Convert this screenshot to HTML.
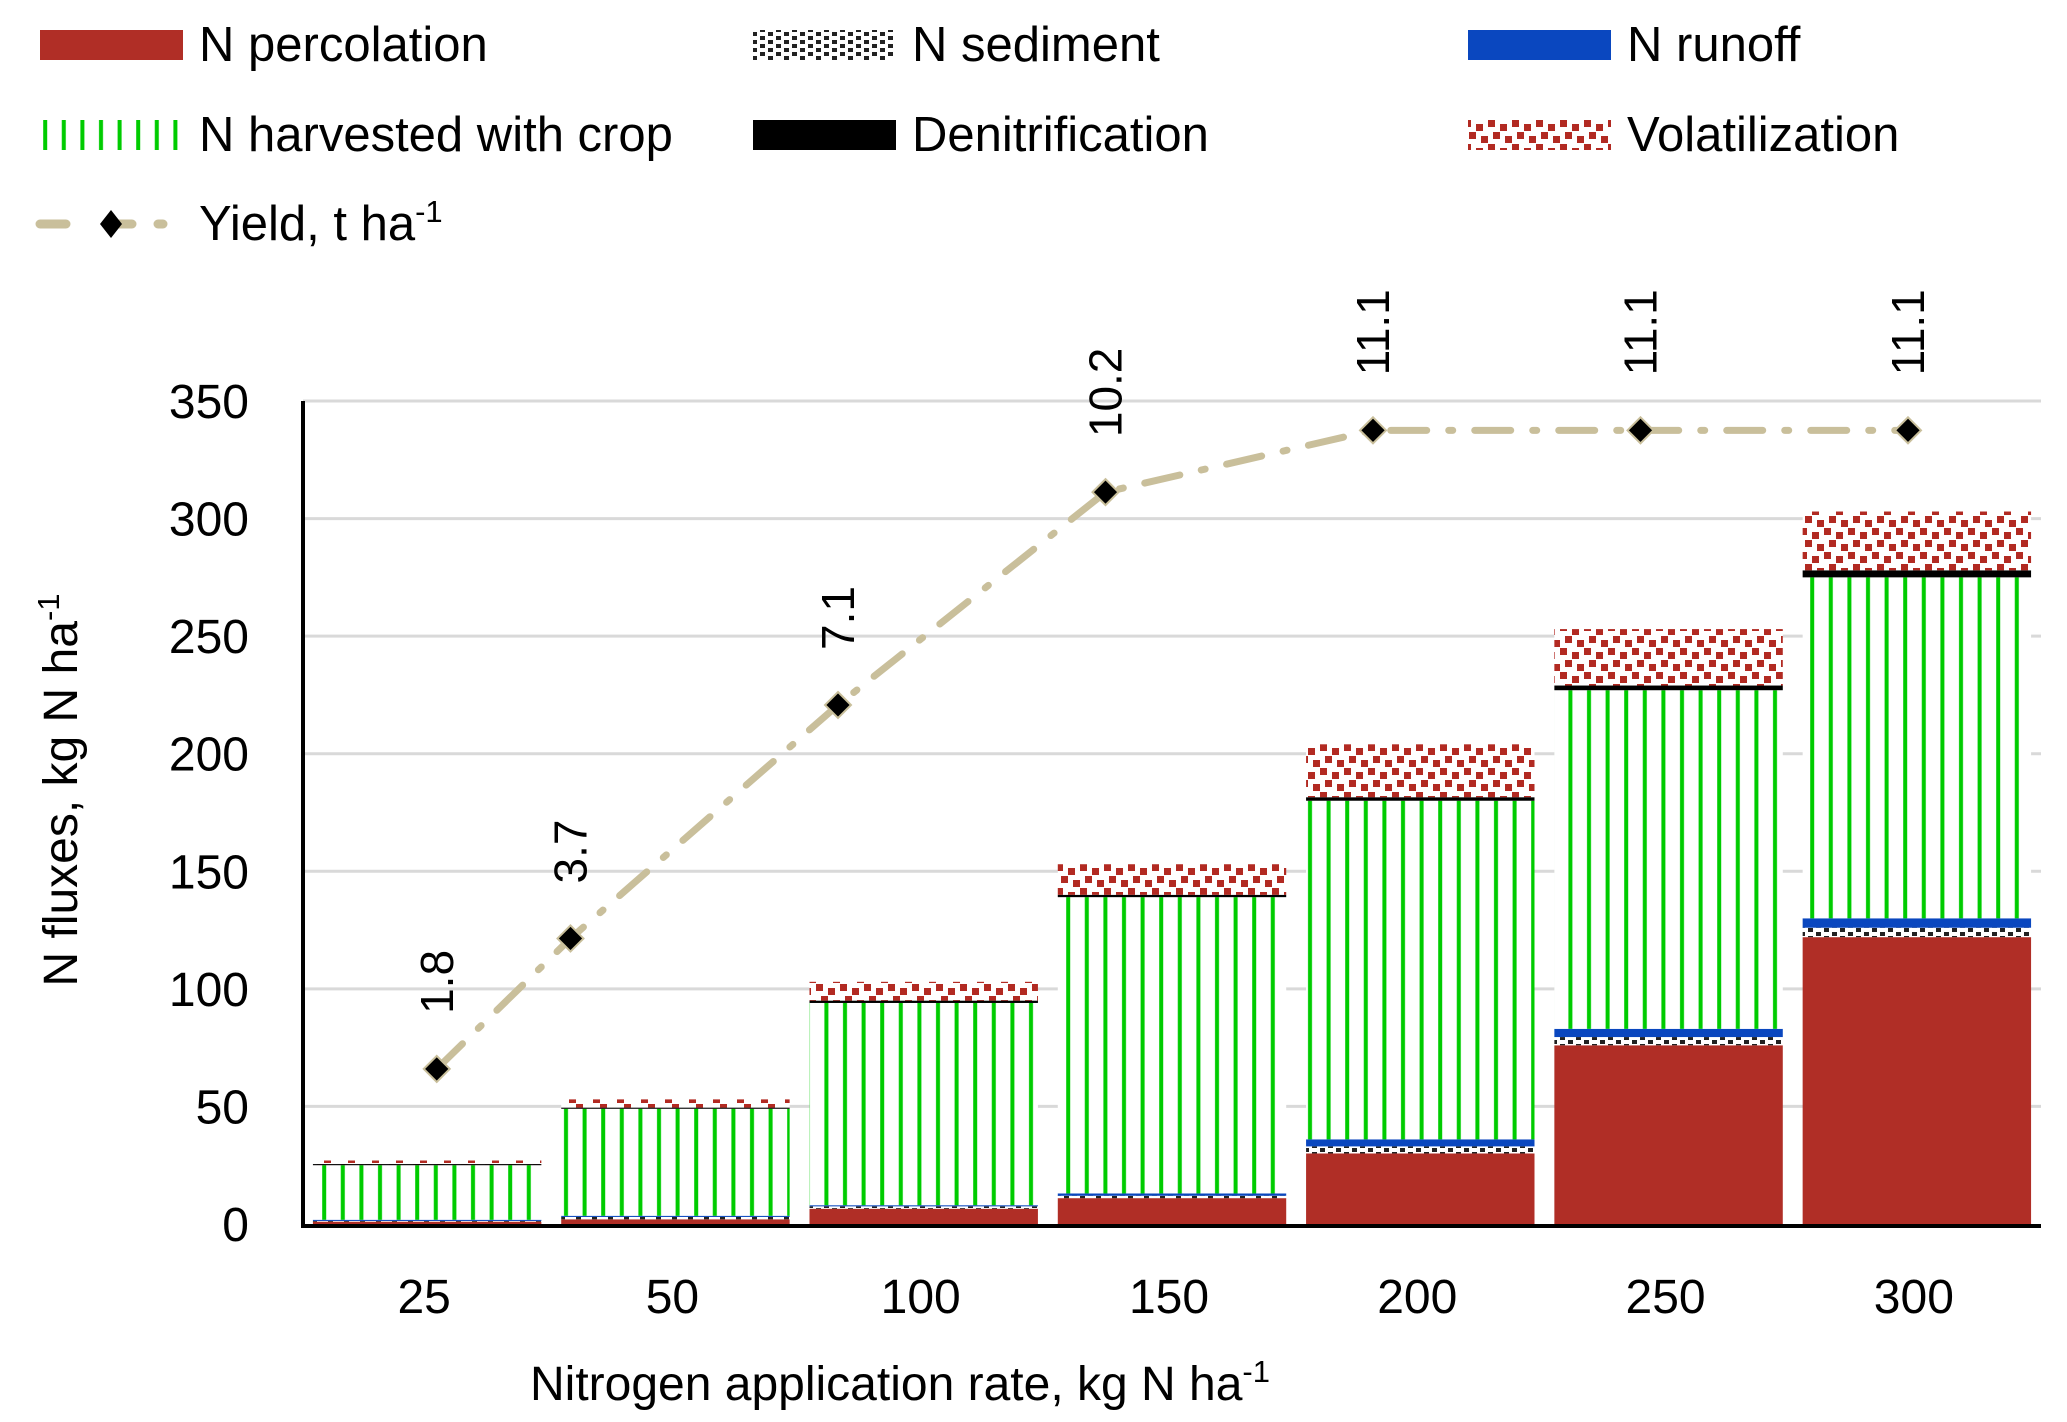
<!DOCTYPE html>
<html><head><meta charset="utf-8"><style>
html,body{margin:0;padding:0;background:#fff}
svg{display:block}
text{font-family:"Liberation Sans",sans-serif;fill:#000}
</style></head><body>
<svg id="chart" width="2067" height="1422" viewBox="0 0 2067 1422" xmlns="http://www.w3.org/2000/svg">
<defs>
<pattern id="pGreen" patternUnits="userSpaceOnUse" width="18.6" height="10"><rect width="18.6" height="10" fill="#fff"/><rect x="6" width="4" height="10" fill="#00cc00"/></pattern>
<pattern id="pVol" patternUnits="userSpaceOnUse" width="24" height="24"><rect width="24" height="24" fill="#fff"/><rect x="0" y="0" width="7" height="7" fill="#b22a22"/><rect x="12" y="4" width="7" height="7" fill="#b22a22"/><rect x="5" y="12" width="7" height="7" fill="#b22a22"/><rect x="17" y="16" width="7" height="7" fill="#b22a22"/></pattern>
<pattern id="pSed" patternUnits="userSpaceOnUse" width="16" height="8"><rect width="16" height="8" fill="#fff"/><rect x="0" y="0" width="5" height="4" fill="#222"/><rect x="8" y="4" width="5" height="4" fill="#222"/></pattern>
</defs>
<g id="grid"></g><g id="bars"></g><g id="axes"></g><g id="yield"></g><g id="legend"></g>
</svg>
<script>
const categories = ["25","50","100","150","200","250","300"];
const rates = [25,50,100,150,200,250,300];
const percolation = [1,2,6.5,11,30,76,122];
const sediment = [0.3,1,1,1,3,3.5,4];
const runoff = [0.5,0.5,0.5,1,3,3.5,4];
const harvested = [23.2,45.5,86,126,144,144,145];
const denitrification = [0.5,0.5,1,1,1.5,2,3];
const volatilization = [1.5,3.5,8,13,22.5,24,25];
const yieldVals = [1.8,3.7,7.1,10.2,11.1,11.1,11.1];
const yTicks = [0,50,100,150,200,250,300,350];

const NS="http://www.w3.org/2000/svg";
function mk(tag,attrs,parent){const e=document.createElementNS(NS,tag);for(const k in attrs)e.setAttribute(k,attrs[k]);parent.appendChild(e);return e;}
const X0=303,X1=2041,Y0=1224,Y350=401;
const y=v=>Y0-(v/350)*(Y0-Y350);
const catW=(X1-X0)/categories.length;
const xc=i=>X0+catW*(i+0.5);
const xr=r=>X0+r*5.35;
const yY=t=>y(13.4+29.2*t);

const grid=document.getElementById('grid');
yTicks.forEach(t=>{
  if(t>0){const l=mk('line',{x1:X0,x2:X1,y1:y(t),y2:y(t),stroke:'#d9d9d9','stroke-width':3},grid);
  
  }
  const tx=mk('text',{x:249,y:y(t)+17,'text-anchor':'end','font-size':48},grid);
  tx.textContent=t;
  
  
});

const bars=document.getElementById('bars');
const series=[
 {d:percolation,fill:'#b02e26',n:'percolation'},
 {d:sediment,fill:'url(#pSed)',n:'sediment'},
 {d:runoff,fill:'#0a47bf',n:'runoff'},
 {d:harvested,fill:'url(#pGreen)',n:'harvested'},
 {d:denitrification,fill:'#000',n:'denitrification'},
 {d:volatilization,fill:'url(#pVol)',n:'volatilization'}];
const bw=catW*0.92;
categories.forEach((c,i)=>{
  let base=0;
  series.forEach(s=>{
    const v=s.d[i];
    const r=mk('rect',{x:xc(i)-bw/2,y:y(base+v),width:bw,height:Math.max(0,y(base)-y(base+v)),fill:s.fill},bars);
    
    
    base+=v;
  });
  const tx=mk('text',{x:xc(i)-3,y:1313,'text-anchor':'middle','font-size':48},bars);
  tx.textContent=c;
  
  
});

const axes=document.getElementById('axes');
let a=mk('line',{x1:X0,x2:X0,y1:Y350,y2:Y0+3,stroke:'#000','stroke-width':4},axes);

a=mk('line',{x1:X0-2,x2:X1,y1:Y0+2,y2:Y0+2,stroke:'#000','stroke-width':4},axes);

let t=mk('text',{x:900,y:1400,'text-anchor':'middle','font-size':48},axes);
t.innerHTML='Nitrogen application rate, kg N ha<tspan dy="-18" font-size="31">-1</tspan>';

t=mk('text',{x:0,y:0,'text-anchor':'middle','font-size':48,transform:'translate(77,790) rotate(-90)'},axes);
t.innerHTML='N fluxes, kg N ha<tspan dy="-18" font-size="31">-1</tspan>';


const yg=document.getElementById('yield');
const pts=rates.map((r,i)=>xr(r)+','+yY(yieldVals[i])).join(' ');
const pl=mk('polyline',{points:pts,fill:'none',stroke:'#c9bf9b','stroke-width':7,'stroke-dasharray':'36 22 4 22','stroke-linecap':'round'},yg);

rates.forEach((r,i)=>{
  const px=xr(r),py=yY(yieldVals[i]);
  const d=mk('path',{d:`M${px} ${py-13}L${px+13} ${py}L${px} ${py+13}L${px-13} ${py}Z`,fill:'#000',stroke:'#c9bf9b','stroke-width':2},yg);
  
  const l=mk('text',{x:0,y:0,'font-size':46,transform:`translate(${px+16},${py-55}) rotate(-90)`},yg);
  l.textContent=yieldVals[i].toFixed(1);
  
});

const lg=document.getElementById('legend');
const leg=[
 {x:40,y:45,fill:'#b02e26',n:'N percolation'},
 {x:753,y:45,fill:'url(#pSed)',n:'N sediment'},
 {x:1468,y:45,fill:'#0a47bf',n:'N runoff'},
 {x:40,y:135,fill:'url(#pGreen)',n:'N harvested with crop'},
 {x:753,y:135,fill:'#000',n:'Denitrification'},
 {x:1468,y:135,fill:'url(#pVol)',n:'Volatilization'}];
leg.forEach(e=>{
  const g=mk('g',{},lg);
  
  
  mk('rect',{x:e.x,y:e.y-15,width:143,height:30,fill:e.fill},g);
  const tx=mk('text',{x:e.x+159,y:e.y+16,'font-size':49},g);
  tx.textContent=e.n;
});
const yl=mk('g',{},lg);


mk('line',{x1:40,x2:163,y1:224,y2:224,stroke:'#c9bf9b','stroke-width':9,'stroke-dasharray':'26 40 26','stroke-linecap':'round'},yl);
mk('path',{d:'M111 210L122 224L111 238L100 224Z',fill:'#000'},yl);
const ylt=mk('text',{x:199,y:240,'font-size':49},yl);
ylt.innerHTML='Yield, t ha<tspan dy="-18" font-size="31">-1</tspan>';
</script>
</body></html>
